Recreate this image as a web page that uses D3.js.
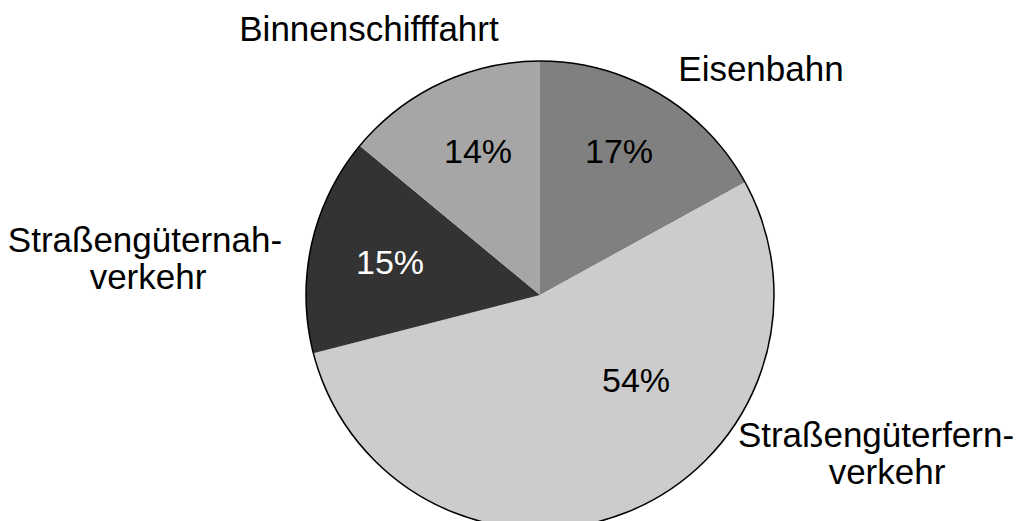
<!DOCTYPE html>
<html>
<head>
<meta charset="utf-8">
<script src="https://cdn.jsdelivr.net/npm/d3@7"></script>
<style>
  html, body { margin: 0; padding: 0; background: #fff; }
  text { font-family: "Liberation Sans", Arial, sans-serif; }
</style>
</head>
<body>
<div id="chart"></div>
<script>
// Daten: Anteile am Güterverkehr (im Uhrzeigersinn ab 12 Uhr)
var kategorien = ["Eisenbahn", "Straßengüterfernverkehr", "Straßengüternahverkehr", "Binnenschifffahrt"];
var anteile = [17, 54, 15, 14];
var farben = ["#808080", "#cccccc", "#333333", "#a6a6a6"];
var beschriftungen = [["Eisenbahn"], ["Straßengüterfern-", "verkehr"], ["Straßengüternah-", "verkehr"], ["Binnenschifffahrt"]];

var breite = 1020, hoehe = 521;
var cx = 540, cy = 295, radius = 234;

var svg = d3.select("#chart")
  .append("svg")
    .attr("width", breite)
    .attr("height", hoehe);

var daten = kategorien.map(function(k, i) {
  return {name: k, wert: anteile[i], farbe: farben[i], label: beschriftungen[i]};
});

var pie = d3.pie()
  .sort(null)
  .value(function(d) { return d.wert; });

var arc = d3.arc()
  .innerRadius(0)
  .outerRadius(radius);

var g = svg.append("g")
  .attr("transform", "translate(" + cx + "," + cy + ")");

var boegen = pie(daten);

g.selectAll("path")
  .data(boegen)
  .enter()
  .append("path")
    .attr("d", arc)
    .style("fill", function(d) { return d.data.farbe; });

// Umriss
g.append("circle")
  .attr("r", radius)
  .style("fill", "none")
  .style("stroke", "#000")
  .style("stroke-width", 1.5);

// Prozentwerte (Position relativ zum Mittelpunkt)
var pctPos = {
  "Eisenbahn": [79, -132],
  "Straßengüterfernverkehr": [96, 97],
  "Straßengüternahverkehr": [-150, -21],
  "Binnenschifffahrt": [-62, -132]
};
var pctFarbe = {"Straßengüternahverkehr": "#fff"};

g.selectAll(".pct")
  .data(boegen)
  .enter()
  .append("text")
    .attr("class", "pct")
    .attr("x", function(d) { return pctPos[d.data.name][0]; })
    .attr("y", function(d) { return pctPos[d.data.name][1]; })
    .attr("text-anchor", "middle")
    .style("font-size", "34px")
    .style("fill", function(d) { return pctFarbe[d.data.name] || "#000"; })
    .text(function(d) { return d.data.wert + "%"; });

// Kategorienamen (absolute Position: Mitte, Grundlinie)
var namePos = {
  "Eisenbahn": [[761, 81]],
  "Straßengüterfernverkehr": [[876, 447], [887, 484]],
  "Straßengüternahverkehr": [[145, 252], [148, 289]],
  "Binnenschifffahrt": [[369, 41]]
};

daten.forEach(function(d) {
  d.label.forEach(function(zeile, j) {
    var p = namePos[d.name][j];
    svg.append("text")
      .attr("x", p[0])
      .attr("y", p[1])
      .attr("text-anchor", "middle")
      .style("font-size", "35px")
      .style("fill", "#000")
      .text(zeile);
  });
});
</script>
</body>
</html>
